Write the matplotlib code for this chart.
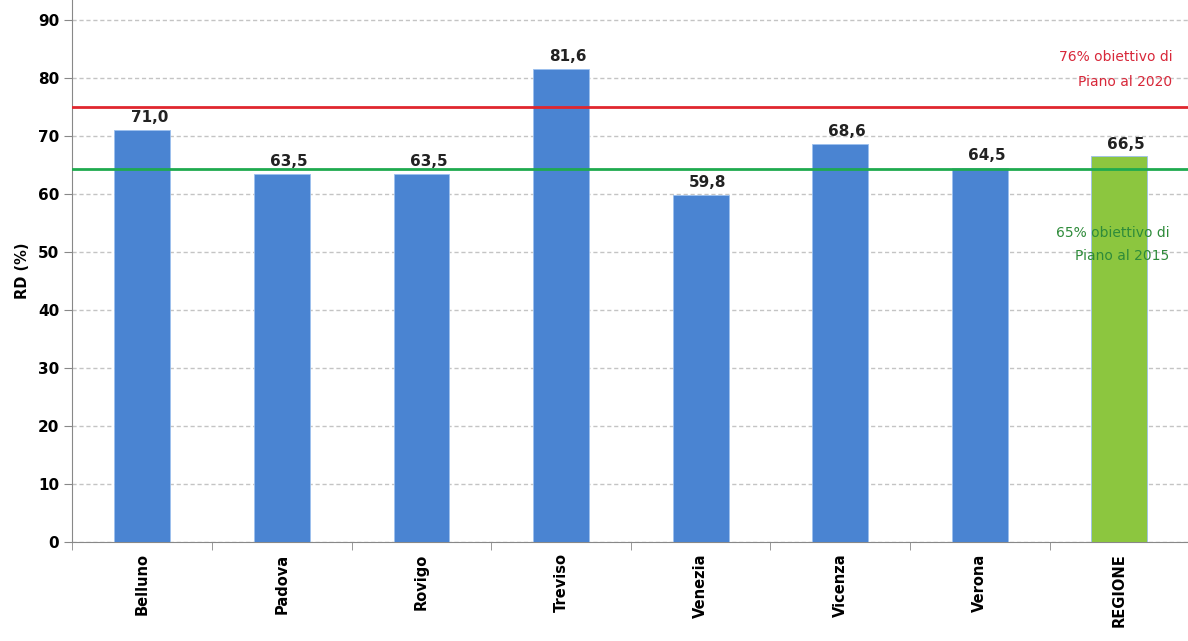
import matplotlib.pyplot as plt
import numpy as np

provinces = ['Belluno', 'Padova', 'Rovigo', 'Treviso', 'Venezia', 'Vicenza', 'Verona', 'REGIONE']
rd_values = [71.0, 63.5, 63.5, 81.6, 59.8, 68.6, 64.5, 66.5]
target_2020 = 75.0
target_2015 = 64.3
yticks = [0, 10, 20, 30, 40, 50, 60, 70, 80, 90]

blue = '#4a84d2'
green = '#8cc63f'

fig = plt.figure(figsize=(11.88, 6.41), dpi=100)
ax = fig.add_axes([0.061, 0.154, 0.94, 0.846])

x = np.arange(len(provinces))
colors = [blue] * (len(provinces) - 1) + [green]
bars = ax.bar(x, rd_values, width=0.4, color=colors, edgecolor='#9cc0ee', linewidth=0.6, zorder=3)

for xi, v in zip(x, rd_values):
    ax.text(xi + 0.05, v + 0.8, f'{v:.1f}'.replace('.', ','), ha='center', va='bottom',
            fontsize=11, fontweight='bold', color='#222222', zorder=5)

ax.axhline(target_2020, color='#e0262e', linewidth=2, zorder=4)
ax.axhline(target_2015, color='#1faa4f', linewidth=2, zorder=4)

ax.text(7.38, 83.5, '76% obiettivo di', ha='right', va='center', fontsize=10, color='#d8283a')
ax.text(7.38, 79.3, 'Piano al 2020', ha='right', va='center', fontsize=10, color='#d8283a')
ax.text(7.36, 53.3, '65% obiettivo di', ha='right', va='center', fontsize=10, color='#2e8b3a')
ax.text(7.36, 49.3, 'Piano al 2015', ha='right', va='center', fontsize=10, color='#2e8b3a')

ax.set_xlim(-0.5, 7.5)
ax.set_ylim(0, 93.4)
ax.set_yticks(yticks)
ax.set_yticklabels([str(t) for t in yticks], fontsize=11, fontweight='bold')
ax.set_xticks(x)
ax.set_xticklabels(provinces, rotation=90, fontsize=10.5, fontweight='bold')
ax.tick_params(axis='x', length=0, pad=8)
ax.set_xticks(np.arange(-0.5, 8, 1), minor=True)
ax.tick_params(axis='x', which='minor', length=6, color='#888888')
ax.tick_params(axis='y', length=6, color='#888888')

ax.yaxis.grid(True, linestyle=(0, (3, 2)), color='#c4c4c4', linewidth=1, zorder=0)
ax.set_axisbelow(True)
ax.set_ylabel('RD (%)', fontsize=10.5, fontweight='bold', labelpad=6)

for side in ['top', 'right']:
    ax.spines[side].set_visible(False)
ax.spines['left'].set_color('#888888')
ax.spines['bottom'].set_color('#888888')

fig.savefig('out.png', dpi=100)
